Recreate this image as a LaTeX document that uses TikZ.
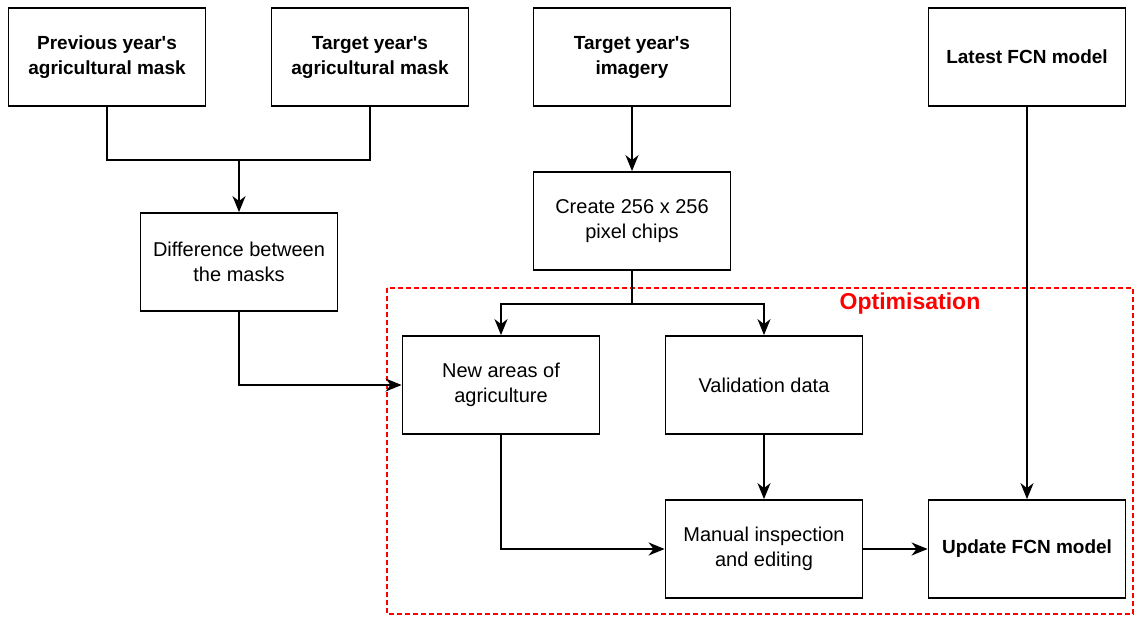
\documentclass[tikz,border=0pt]{standalone}
\usepackage{fontspec}
\setmainfont{Liberation Sans}
\usetikzlibrary{arrows.meta}
\begin{document}
\begin{tikzpicture}[x=1pt,y=-1pt,
 box/.style={draw, line width=1.8pt, minimum width=197pt, minimum height=98pt, align=center, font=\fontsize{20}{25}\selectfont, inner sep=0pt},
 boldbox/.style={box, font=\fontsize{19}{25}\selectfont\bfseries},
 arr/.style={line width=1.8pt, -{Stealth[length=16pt,width=13pt,inset=5pt]}},
 ln/.style={line width=1.8pt}]
\useasboundingbox (0,0) rectangle (1135,617);
\draw[red, line width=1.5pt, dash pattern=on 5pt off 3pt] (387,288) rectangle (1133,614);
\node[red, font=\fontsize{23}{28}\selectfont\bfseries] (opt) at (910,304) {Optimisation};

\node[boldbox] (prev) at (107,57) {Previous year\textquotesingle s\\agricultural mask};
\node[boldbox] (tmask) at (370,57) {Target year\textquotesingle s\\agricultural mask};
\node[boldbox] (timg) at (632,57) {Target year\textquotesingle s\\imagery};
\node[boldbox] (latest) at (1027,57) {Latest FCN model};
\node[box] (diff) at (239,262) {Difference between\\the masks};
\node[box] (chips) at (632,221) {Create 256 x 256\\pixel chips};
\node[box] (newarea) at (501,385) {New areas of\\agriculture};
\node[box] (valid) at (764,385) {Validation data};
\node[box] (manual) at (764,549) {Manual inspection\\and editing};
\node[boldbox] (update) at (1027,549) {Update FCN model};

\coordinate (j1) at (239,160);
\draw[ln] (prev.south) |- (j1) -| (tmask.south);
\draw[arr] (j1) -- (diff.north);
\draw[arr] (timg) -- (chips);
\coordinate (j2) at (632,304);
\draw[ln] (chips.south) -- (j2);
\draw[arr] (j2) -| (newarea.north);
\draw[arr] (j2) -| (valid.north);
\draw[arr] (diff.south) |- (newarea.west);
\draw[arr] (valid) -- (manual);
\draw[arr] (newarea.south) |- (manual.west);
\draw[arr] (manual) -- (update);
\draw[arr] (latest) -- (update);
\end{tikzpicture}
\end{document}
